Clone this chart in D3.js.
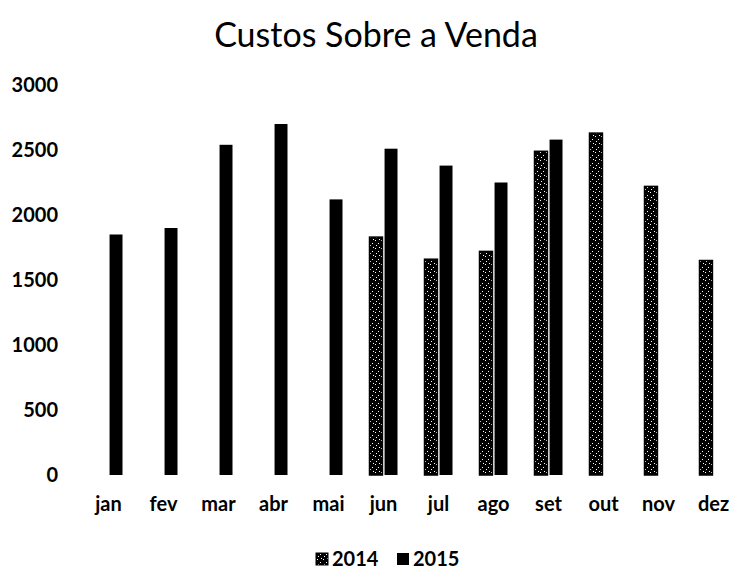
<!DOCTYPE html>
<html>
<head>
<meta charset="utf-8">
<script src="https://cdn.jsdelivr.net/npm/d3@7"></script>
<style>
  body { margin: 0; background: #fff; }
  svg { display: block; font-family: Lato, "Open Sans", sans-serif; }
</style>
</head>
<body>
<svg id="chart"></svg>
<script>
var width = 733;
var height = 571;

// data
var months = ["jan", "fev", "mar", "abr", "mai", "jun", "jul", "ago", "set", "out", "nov", "dez"];
var seriesNames = ["2014", "2015"];
var values2014 = [null, null, null, null, null, 1830, 1660, 1720, 2490, 2630, 2220, 1650];
var values2015 = [1850, 1900, 2540, 2700, 2120, 2510, 2380, 2250, 2580, null, null, null];
var yTicks = [0, 500, 1000, 1500, 2000, 2500, 3000];

var svg = d3.select("#chart")
    .attr("width", width)
    .attr("height", height);

// speckled fill for 2014
var defs = svg.append("defs");
var pat = defs.append("pattern")
    .attr("id", "speckle")
    .attr("patternUnits", "userSpaceOnUse")
    .attr("width", 6)
    .attr("height", 8);
pat.append("rect").attr("width", 6).attr("height", 8).attr("fill", "#000");
[[1, 0], [4, 3], [2, 5], [5, 7]].forEach(function (p) {
    pat.append("rect")
        .attr("x", p[0]).attr("y", p[1])
        .attr("width", 1).attr("height", 1)
        .attr("fill", "#fff");
});

var x = d3.scaleBand()
    .domain(months)
    .range([81, 741]);

var x1 = d3.scaleBand()
    .domain(seriesNames)
    .range([x.bandwidth() / 2 - 14, x.bandwidth() / 2 + 14])
    .paddingInner(0.14);

var y = d3.scaleLinear()
    .domain([0, 3000])
    .range([475, 85]);

var color = { "2014": "url(#speckle)", "2015": "#000" };

// title
svg.append("text")
    .attr("x", 376)
    .attr("y", 47)
    .attr("text-anchor", "middle")
    .attr("font-size", "34px")
    .attr("fill", "#000")
    .text("Custos Sobre a Venda");

// y axis (labels only)
var yAxis = svg.append("g")
    .attr("transform", "translate(58,0)")
    .call(d3.axisLeft(y).tickValues(yTicks).tickFormat(d3.format("d")).tickSize(0).tickPadding(0));
yAxis.select(".domain").remove();
yAxis.selectAll("text")
    .attr("font-size", "20px")
    .attr("font-weight", "bold")
    .attr("font-family", "Lato, sans-serif")
    .attr("fill", "#000");

// x axis (labels only)
var xAxis = svg.append("g")
    .attr("transform", "translate(0,475)")
    .call(d3.axisBottom(x).tickSize(0).tickPadding(22));
xAxis.select(".domain").remove();
xAxis.selectAll("text")
    .attr("font-size", "20px")
    .attr("font-weight", "bold")
    .attr("font-family", "Lato, sans-serif")
    .attr("fill", "#000");

// bars
var rows = months.map(function (m, i) {
    return { month: m, "2014": values2014[i], "2015": values2015[i] };
});

var groups = svg.selectAll(".month")
    .data(rows)
    .enter().append("g")
    .attr("class", "month")
    .attr("transform", function (d) { return "translate(" + x(d.month) + ",0)"; });

groups.selectAll("rect")
    .data(function (d) {
        return seriesNames.map(function (s) { return { key: s, value: d[s] }; })
            .filter(function (e) { return e.value != null; });
    })
    .enter().append("rect")
    .attr("x", function (d) { return x1(d.key); })
    .attr("y", function (d) { return y(d.value); })
    .attr("width", x1.bandwidth())
    .attr("height", function (d) { return y(0) - y(d.value); })
    .attr("fill", function (d) { return color[d.key]; })
    .attr("stroke", "#000")
    .attr("stroke-width", function (d) { return d.key === "2014" ? 1.5 : 0; });

// legend
var legend = svg.append("g")
    .attr("transform", "translate(316,559)");

var items = legend.selectAll(".item")
    .data(seriesNames)
    .enter().append("g")
    .attr("class", "item")
    .attr("transform", function (d, i) { return "translate(" + (i * 81) + ",0)"; });

items.append("rect")
    .attr("x", 0)
    .attr("y", -6)
    .attr("width", 12)
    .attr("height", 12)
    .attr("fill", function (d) { return color[d]; })
    .attr("stroke", "#000")
    .attr("stroke-width", function (d) { return d === "2014" ? 1 : 0; });

items.append("text")
    .attr("x", 16)
    .attr("y", 7)
    .attr("font-size", "20px")
    .attr("font-weight", "bold")
    .attr("fill", "#000")
    .text(function (d) { return d; });
</script>
</body>
</html>
